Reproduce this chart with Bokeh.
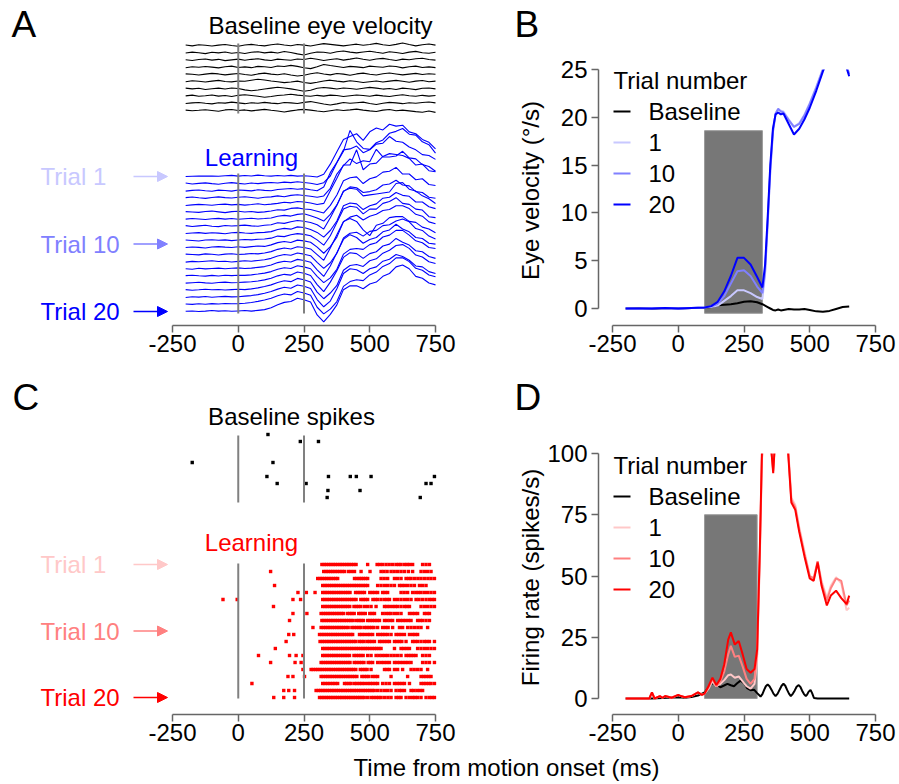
import math
from bokeh.plotting import figure
from bokeh.models import Range1d, FixedTicker, Label, Arrow, NormalHead, LinearAxis
from bokeh.embed import file_html
from bokeh.resources import INLINE

# ---------------- data ----------------
X_TICKS = [-250, 0, 250, 500, 750]
EYE_TICKS = [0, 5, 10, 15, 20, 25]
RATE_TICKS = [0, 25, 50, 75, 100]

# Panel A: single-trial eye velocity (deg/s), sampled every 25 ms
T_A = [-200, -175, -150, -125, -100, -75, -50, -25, 0, 25, 50, 75, 100, 125, 150, 175, 200,
       225, 250, 275, 300, 325, 350, 375, 400, 425, 450, 475, 500, 525, 550, 575, 600, 625,
       650, 675, 700, 725, 750]

BASE_EYE_TRIALS = [
    [0.3, -0.2, 0.4, 0.1, -0.3, 0.2, 0.5, 0.0, -0.4, 0.3, 0.6, 0.1, -0.2, 0.4, 0.8, 0.3, -0.1, 0.5, 0.2, -0.3, 0.4, 1.0, 0.6, 0.2, -0.2, 0.3, 0.7, 0.1, 0.5, 1.1, 0.4, 0.0, 0.6, 1.3, 0.5, -0.2, 0.4, 0.8, 0.2],
    [-0.2, 0.3, 0.0, -0.5, 0.2, -0.1, 0.4, -0.3, 0.1, -0.4, 0.2, 0.5, -0.1, 0.3, -0.2, 0.6, 0.1, -0.6, -1.2, -0.3, 0.4, 0.2, -0.3, 0.5, 0.9, 0.3, -0.1, 0.4, 0.8, 0.2, -0.3, 0.5, 0.1, -0.4, 0.3, 0.7, 0.0, -0.3, 0.2],
    [0.1, -0.3, 0.2, 0.5, -0.1, 0.3, -0.4, 0.0, 0.4, -0.2, 0.3, 0.6, 0.0, -0.3, 0.4, 0.1, -0.2, 0.5, 0.2, 0.9, 0.3, -0.3, 0.2, 0.6, -0.1, 0.4, 1.0, 0.3, -0.2, 0.5, 0.8, 0.2, -0.3, 0.4, 0.1, 0.6, 0.9, 0.2, -0.1],
    [-0.3, 0.2, -0.1, 0.3, 0.0, -0.4, 0.2, 0.5, -0.2, 0.1, -0.3, 0.4, 0.2, -0.2, 0.6, 0.3, 0.9, 0.4, -0.3, -0.8, 0.2, 1.4, 0.8, 0.3, -0.2, 0.4, 0.1, -0.3, 0.5, 0.2, -0.1, 0.6, 0.3, -0.4, 0.2, 0.5, -0.2, 0.1, -0.3],
    [0.2, 0.0, -0.4, 0.1, 0.5, 0.2, -0.3, 0.1, 0.4, -0.1, -0.5, 0.2, 0.6, 0.1, -0.2, 0.3, -0.4, -0.9, -0.5, 0.3, 0.8, 0.2, -0.3, 0.4, 0.1, -0.5, 0.2, 0.6, 0.0, -0.4, 0.3, 0.7, 0.2, -0.3, 0.1, 0.5, -0.1, 0.3, 0.0],
    [-0.1, 0.4, 0.1, -0.3, 0.2, 0.6, 0.0, -0.2, 0.3, 0.1, 0.7, 1.2, 0.8, 0.3, -0.1, -0.6, -0.3, 0.2, -0.5, -1.0, -0.4, 0.3, 0.7, 0.2, -0.2, 0.4, 0.0, -0.5, -0.1, 0.3, -0.3, 0.2, 0.6, 0.1, -0.4, 0.2, 0.5, -0.1, 0.2],
    [0.3, -0.1, 0.2, -0.4, 0.0, 0.3, -0.2, 0.4, 0.1, -0.6, -1.1, -0.7, -0.2, 0.3, 0.8, 0.4, -0.1, -0.7, -1.3, -0.8, 0.2, 0.6, 0.3, -0.2, 0.4, 0.1, -0.3, 0.2, 0.7, 0.3, -0.2, 0.1, -0.4, 0.3, 0.0, -0.5, 0.2, 0.4, -0.1],
    [0.0, 0.4, -0.2, 0.1, 0.5, -0.1, 0.2, -0.3, 0.3, 0.6, 0.2, -0.2, -0.7, -0.3, 0.2, 0.5, 0.9, 0.4, 0.1, -0.2, 0.3, -0.1, 0.4, 0.2, -0.3, 0.1, 0.5, 0.2, -0.2, 0.4, 0.0, -0.3, 0.2, 0.6, 0.1, -0.2, 0.3, -0.1, 0.2],
    [-0.2, 0.1, 0.3, -0.1, -0.4, 0.2, 0.0, 0.5, 0.1, -0.3, 0.2, -0.1, 0.4, 0.0, -0.3, 0.3, 0.1, -0.2, 0.4, 0.8, 0.2, -0.5, -1.0, -0.4, 0.3, -0.1, 0.2, 0.5, -0.2, -0.7, -0.1, 0.4, 0.1, -0.3, 0.2, -0.1, 0.3, 0.6, 0.1],
    [0.1, -0.2, 0.0, 0.3, -0.1, -0.5, 0.2, 0.4, -0.1, 0.2, -0.3, 0.1, 0.5, 0.0, -0.4, -0.9, -0.3, 0.2, 0.5, 0.1, -0.4, -0.8, -0.2, 0.3, -0.1, 0.2, 0.6, 0.1, -0.3, -0.6, 0.1, 0.4, -0.2, 0.1, -0.3, -0.7, -1.0, -0.4, -1.1],
]

LEARN_EYE_TRIALS = [
    [0.0, 0.1, 0.2, 0.2, 0.3, 0.1, 0.4, 0.6, 0.2, 0.5, 0.3, 0.7, 0.4, 0.2, 0.5, 0.3, 0.6, 0.2, 0.4, 0.1, -0.3, 1.2, 6.5, 13.0, 19.5, 21.0, 22.5, 19.0, 23.5, 25.5, 24.5, 27.5, 26.5, 27.0, 23.5, 22.5, 19.5, 18.0, 14.5],
    [0.3, -0.2, 0.1, 0.4, 0.0, -0.3, 0.2, 0.5, 0.1, -0.2, 0.3, 0.0, 0.4, 0.6, 0.3, 0.8, 0.5, 1.0, 0.6, 0.2, -0.5, 0.5, 4.0, 11.0, 17.0, 28.0, 22.0, 18.5, 18.0, 21.5, 23.0, 26.5, 27.5, 29.0, 26.0, 25.5, 22.0, 20.5, 16.0],
    [-0.2, 0.2, 0.4, 0.0, -0.3, 0.3, 0.1, -0.2, 0.4, 0.2, -0.1, 0.5, 0.2, 0.0, 0.6, 0.9, 1.2, 0.8, 1.1, 0.5, 0.0, 2.0, 9.5, 15.0, 21.5, 22.0, 23.5, 20.0, 21.5, 24.5, 25.0, 28.5, 26.0, 25.5, 23.0, 21.5, 19.0, 18.5, 16.5],
    [0.1, 0.4, 0.0, -0.3, 0.2, 0.5, 0.1, -0.1, 0.3, 0.6, 0.2, -0.2, 0.3, 0.5, 1.0, 0.6, 1.3, 1.6, 1.2, 0.8, 0.3, 1.0, 5.0, 12.5, 17.0, 20.5, 18.0, 19.5, 19.0, 25.5, 21.5, 21.5, 22.0, 24.5, 21.0, 20.5, 17.5, 16.5, 14.0],
    [-0.3, 0.0, 0.3, 0.1, -0.2, 0.2, 0.4, 0.0, 0.3, -0.1, 0.2, 0.6, 0.1, 0.4, 0.8, 1.4, 1.1, 1.8, 1.5, 1.0, 0.2, 0.8, 7.5, 14.0, 21.0, 21.0, 29.0, 18.5, 21.5, 22.0, 25.5, 27.0, 26.5, 26.0, 24.5, 21.0, 21.5, 18.0, 17.5],
    [0.2, 0.0, -0.2, 0.3, 0.5, 0.1, -0.3, 0.2, 0.4, 0.0, 0.3, -0.2, 0.1, 0.5, 1.2, 1.0, 1.9, 2.2, 1.6, 1.3, 0.4, -0.5, 3.5, 9.0, 16.5, 18.0, 18.5, 15.0, 17.5, 18.5, 21.0, 21.5, 23.5, 20.0, 20.0, 17.0, 17.5, 14.5, 14.0],
    [0.0, 0.3, 0.1, -0.2, 0.2, 0.4, 0.0, 0.3, -0.1, 0.2, 0.5, 0.1, 0.3, 0.6, 1.5, 2.0, 1.6, 2.5, 2.8, 1.8, 0.6, -1.0, 2.5, 7.5, 14.5, 17.0, 16.5, 14.0, 14.5, 15.5, 18.0, 18.5, 20.5, 18.0, 17.5, 14.5, 14.0, 11.5, 11.0],
    [0.3, -0.1, 0.2, 0.5, 0.0, -0.2, 0.4, 0.1, 0.3, 0.6, 0.2, 0.0, 0.5, 0.8, 1.8, 1.5, 2.4, 3.0, 2.6, 2.0, 0.8, -1.5, 4.5, 11.0, 18.5, 20.0, 19.5, 16.0, 16.5, 17.0, 17.5, 18.0, 22.5, 23.0, 19.5, 18.5, 16.0, 14.5, 12.0],
    [-0.1, 0.2, 0.4, 0.0, 0.3, 0.1, -0.2, 0.3, 0.5, 0.2, 0.0, 0.4, 0.5, 0.9, 2.0, 2.6, 2.2, 3.4, 3.1, 2.0, 0.5, -2.0, 1.5, 6.5, 14.5, 16.0, 15.5, 12.5, 14.5, 15.5, 18.5, 19.0, 21.5, 20.0, 19.5, 16.5, 16.5, 14.0, 13.0],
    [0.2, 0.0, -0.3, 0.2, 0.4, 0.1, 0.3, -0.1, 0.2, 0.5, 0.3, 0.6, 0.8, 1.2, 2.3, 2.0, 3.0, 3.6, 3.2, 2.5, 0.3, -2.5, 2.5, 9.5, 16.5, 18.0, 17.5, 14.0, 16.5, 16.5, 19.5, 20.5, 22.5, 19.5, 19.0, 16.5, 16.0, 12.5, 12.0],
    [0.0, 0.3, 0.1, -0.2, 0.3, 0.5, 0.2, 0.0, 0.4, 0.1, 0.5, 0.8, 0.6, 1.4, 2.6, 3.2, 2.7, 3.9, 3.5, 2.8, 0.2, -3.0, 0.5, 5.5, 13.5, 16.0, 17.0, 14.5, 16.5, 17.5, 19.5, 20.0, 22.0, 22.0, 20.5, 17.5, 16.5, 13.5, 12.5],
    [0.3, 0.1, -0.1, 0.4, 0.2, -0.2, 0.3, 0.5, 0.1, 0.3, 0.6, 0.4, 0.9, 1.6, 2.8, 3.5, 3.0, 4.2, 3.8, 3.0, 0.0, -3.0, 3.5, 10.5, 17.5, 19.0, 17.5, 13.0, 10.0, 15.5, 16.5, 19.5, 20.0, 20.0, 17.5, 17.0, 14.5, 13.5, 11.5],
    [-0.2, 0.2, 0.0, 0.3, 0.5, 0.1, 0.3, -0.1, 0.2, 0.5, 0.3, 0.7, 1.1, 1.8, 3.0, 3.8, 3.4, 4.6, 4.0, 3.2, -0.3, -3.5, -0.5, 4.5, 12.5, 15.0, 15.5, 13.5, 16.0, 16.5, 19.0, 19.5, 21.5, 22.5, 21.0, 17.5, 16.5, 13.5, 12.0],
    [0.1, -0.2, 0.3, 0.0, 0.2, 0.4, 0.1, 0.3, 0.5, 0.2, 0.4, 0.8, 1.2, 2.0, 3.3, 4.0, 3.6, 5.0, 4.4, 3.5, -0.5, -4.0, 1.5, 8.5, 15.5, 18.0, 16.5, 13.5, 15.5, 16.5, 19.5, 20.5, 23.5, 21.0, 19.5, 16.5, 16.0, 13.5, 13.0],
    [0.2, 0.4, 0.1, -0.1, 0.3, 0.0, 0.4, 0.2, 0.4, 0.3, 0.6, 1.0, 1.5, 2.3, 3.5, 4.3, 3.9, 5.4, 4.8, 3.8, -0.2, -3.5, -1.0, 3.5, 11.5, 14.0, 14.5, 14.0, 16.5, 17.5, 20.5, 21.5, 24.0, 24.0, 21.5, 18.5, 17.5, 15.0, 14.5],
    [0.0, 0.2, 0.4, 0.1, -0.1, 0.3, 0.5, 0.2, 0.3, 0.5, 0.7, 1.1, 1.7, 2.5, 3.8, 4.6, 4.2, 5.8, 5.2, 4.0, -0.8, -4.5, 0.5, 6.5, 13.5, 16.0, 15.5, 13.0, 15.5, 16.5, 19.5, 20.5, 23.5, 21.5, 20.0, 17.0, 16.5, 14.0, 13.0],
    [0.3, 0.0, 0.2, 0.5, 0.2, 0.4, 0.1, 0.3, 0.5, 0.3, 0.7, 1.2, 1.9, 2.8, 4.0, 5.0, 4.5, 6.2, 5.5, 4.3, -1.0, -4.5, -1.5, 2.5, 10.5, 13.0, 13.5, 12.5, 15.5, 16.5, 19.5, 21.0, 23.5, 24.0, 22.0, 18.5, 17.5, 15.0, 14.0],
    [-0.1, 0.3, 0.1, 0.4, 0.0, 0.3, 0.5, 0.2, 0.3, 0.6, 0.9, 1.4, 2.1, 3.0, 4.3, 5.3, 4.8, 6.5, 5.8, 4.6, -1.2, -5.0, -2.0, 4.5, 12.5, 15.0, 14.5, 12.5, 15.0, 16.0, 19.0, 20.0, 22.5, 21.5, 19.5, 16.5, 16.0, 13.5, 12.5],
    [0.2, 0.0, 0.3, 0.1, 0.4, 0.2, 0.5, 0.3, 0.4, 0.6, 1.0, 1.6, 2.3, 3.2, 4.5, 5.5, 5.0, 6.8, 6.0, 4.8, -1.5, -5.0, -2.5, 1.5, 9.5, 12.0, 13.0, 12.5, 15.5, 17.0, 20.0, 21.5, 24.5, 24.5, 22.5, 19.0, 18.0, 15.5, 14.5],
    [0.1, 0.3, 0.0, 0.2, 0.5, 0.2, 0.4, 0.1, 0.3, 0.5, 0.2, 0.6, 1.0, 2.0, 3.5, 4.8, 5.3, 7.0, 6.2, 5.0, -1.8, -5.5, -1.5, 3.5, 11.5, 13.5, 13.5, 12.0, 14.5, 15.5, 18.5, 20.0, 23.5, 24.5, 22.5, 18.5, 17.5, 15.0, 14.0],
]

# Panel B: mean eye velocity (deg/s)
T_B = [-200, -150, -100, -50, 0, 50, 100, 125, 150, 175, 200, 225, 250, 275, 300, 320, 330,
       340, 350, 360, 370, 380, 390, 400, 420, 440, 460, 480, 500, 525, 550, 575, 600, 625, 650]
EYE_BASE = [0, 0.05, -0.05, 0.05, 0, 0.05, 0.05, 0.15, 0.35, 0.4, 0.45, 0.55, 0.7, 0.75, 0.65, 0.45, 0.3, 0.15, 0.0, -0.15, -0.2, -0.1, -0.2, -0.15, -0.05, -0.1, -0.1, -0.05, -0.15, -0.3, -0.35, -0.25, -0.05, 0.15, 0.2]
EYE_T1 = [0, 0, 0, 0.05, 0, 0.05, 0.1, 0.15, 0.3, 0.8, 1.3, 1.9, 1.9, 1.6, 1.2, 1.0, 3.5, 8.8, 14.3, 18.4, 20.3, 20.8, 20.7, 20.6, 19.8, 19.0, 19.4, 20.3, 21.5, 23.2, 25.1, 26.7, 28.0, 26.7, 24.6]
EYE_T10 = [0, 0, 0, 0.05, 0, 0.05, 0.1, 0.2, 0.5, 1.3, 2.6, 3.9, 4.0, 3.4, 2.3, 1.6, 3.8, 9.0, 14.5, 18.5, 20.4, 20.9, 20.6, 20.5, 19.7, 19.0, 19.3, 20.2, 21.4, 23.1, 25.0, 26.6, 28.0, 26.6, 24.5]
EYE_T20 = [0, 0, 0, 0.05, 0, 0.05, 0.1, 0.25, 0.7, 1.8, 3.4, 5.3, 5.3, 4.6, 3.3, 2.2, 4.5, 9.5, 15.0, 18.8, 20.3, 20.5, 20.3, 20.4, 19.3, 18.2, 18.8, 19.8, 21.0, 22.8, 24.8, 26.5, 28.0, 26.5, 24.3]
EYE_WINDOW = (100, 320, -0.5, 18.6)   # analysis window: start, end, bottom, top

# Panel C: spike times (ms)
BASE_SPIKES = [[113], [236, 305], [], [], [-175, 132], [], [109, 343, 426, 449, 505, 746],
               [148, 258, 714, 733], [341, 463], [338, 692]]
LEARN_SPIKES = [
    [318, 327, 335, 344, 352, 361, 369, 378, 387, 395, 404, 413, 421, 430, 439, 448, 492, 528, 538, 549, 562, 574, 587, 600, 610, 619, 632, 642, 651, 663, 701, 714, 727],
    [123, 325, 334, 342, 351, 359, 368, 377, 386, 395, 404, 419, 430, 442, 467, 501, 543, 554, 566, 581, 593, 606, 619, 632, 647, 663, 695, 708, 720, 733],
    [302, 311, 319, 328, 336, 345, 353, 362, 370, 378, 442, 451, 460, 468, 476, 484, 492, 543, 555, 568, 594, 606, 619, 638, 648, 657, 670, 683, 695, 708, 721, 733, 746],
    [138, 321, 330, 338, 347, 355, 364, 372, 381, 389, 398, 406, 415, 423, 432, 441, 449, 458, 466, 475, 483, 492, 530, 543, 556, 568, 581, 594, 613, 622, 632, 644, 657, 670, 689, 701, 714],
    [227, 259, 292, 321, 330, 338, 347, 356, 364, 373, 382, 390, 399, 408, 416, 425, 446, 455, 463, 472, 480, 500, 510, 520, 530, 549, 558, 568, 619, 631, 644, 663, 675, 685, 695, 708, 720, 733, 746],
    [-58, -4, 208, 237, 321, 329, 338, 346, 355, 363, 372, 380, 389, 397, 406, 414, 423, 431, 440, 448, 466, 475, 483, 492, 512, 521, 530, 543, 556, 566, 575, 594, 606, 619, 632, 644, 657, 676, 687, 700, 714, 727, 737, 746],
    [134, 321, 330, 338, 347, 355, 364, 372, 381, 390, 398, 407, 415, 424, 440, 449, 457, 466, 480, 492, 505, 524, 556, 565, 575, 587, 597, 606, 619, 632, 641, 651, 695, 708, 720, 733, 746],
    [208, 261, 315, 324, 332, 341, 349, 358, 366, 375, 383, 392, 400, 415, 424, 432, 441, 458, 466, 474, 483, 500, 509, 518, 549, 561, 572, 581, 594, 606, 619, 651, 662, 672, 682, 708, 718, 727],
    [195, 318, 326, 335, 343, 352, 360, 369, 377, 386, 394, 403, 411, 420, 428, 437, 450, 459, 467, 476, 492, 501, 510, 519, 528, 537, 556, 566, 577, 587, 606, 616, 626, 636, 647, 657, 682, 692, 701, 714, 727],
    [284, 315, 324, 332, 341, 349, 358, 366, 375, 383, 392, 400, 409, 418, 432, 441, 450, 459, 467, 480, 489, 498, 507, 516, 530, 549, 560, 570, 587, 613, 625, 644, 657, 670, 683, 695, 720],
    [192, 211, 309, 318, 326, 335, 343, 352, 360, 369, 377, 386, 395, 403, 412, 420, 428, 435, 461, 470, 480, 492, 501, 511, 530, 540, 549, 558, 568, 581, 600, 610, 620, 632, 651, 663, 672, 682],
    [182, 311, 320, 328, 337, 345, 354, 362, 371, 379, 388, 396, 405, 413, 422, 430, 439, 447, 460, 469, 478, 490, 499, 508, 518, 537, 546, 556, 566, 575, 594, 603, 613, 622, 638, 663, 672, 682, 695, 708, 717, 727, 746],
    [141, 321, 329, 338, 346, 355, 363, 372, 380, 389, 397, 406, 414, 423, 431, 440, 449, 457, 466, 474, 483, 491, 500, 509, 518, 526, 535, 543, 594, 619, 629, 640, 651, 682, 695, 708, 720, 733, 746],
    [77, 195, 220, 246, 321, 329, 338, 346, 355, 363, 372, 380, 389, 397, 406, 414, 423, 440, 449, 458, 466, 475, 492, 505, 524, 535, 546, 557, 568, 581, 593, 606, 619, 638, 648, 657, 666, 676, 701, 714, 727],
    [123, 216, 239, 315, 323, 332, 340, 349, 357, 366, 374, 383, 391, 400, 408, 417, 425, 441, 450, 460, 469, 478, 494, 502, 511, 530, 542, 553, 564, 575, 594, 604, 614, 625, 636, 646, 657, 701, 714, 727, 746],
    [246, 277, 285, 294, 302, 311, 319, 328, 336, 345, 353, 362, 370, 379, 387, 396, 404, 413, 421, 430, 438, 447, 464, 473, 482, 490, 505, 556, 566, 575, 594, 606, 625, 657, 669, 682, 695, 720],
    [189, 208, 252, 315, 323, 332, 340, 349, 357, 366, 374, 383, 391, 400, 408, 417, 425, 434, 442, 451, 470, 479, 488, 497, 511, 521, 530, 581, 644, 695, 705, 714, 724, 733],
    [52, 321, 330, 340, 349, 359, 368, 378, 404, 412, 421, 429, 442, 451, 461, 470, 480, 492, 502, 511, 521, 530, 549, 562, 575, 594, 604, 613, 623, 632, 651, 695, 705, 714, 724, 733, 746],
    [173, 192, 214, 296, 305, 313, 322, 330, 339, 347, 356, 364, 373, 381, 390, 398, 407, 415, 424, 432, 441, 449, 458, 466, 475, 483, 492, 500, 509, 517, 530, 543, 556, 568, 581, 600, 612, 621, 632, 657, 667, 679, 690, 701],
    [135, 173, 214, 309, 318, 326, 335, 343, 352, 360, 369, 377, 386, 394, 403, 411, 420, 428, 437, 445, 454, 462, 471, 479, 492, 505, 515, 525, 534, 543, 556, 569, 581, 600, 610, 619, 638, 651, 663, 672, 682, 695, 714, 727, 737, 746],
]

# Panel D: firing rate (spikes/s)
T_D = [-200, -150, -110, -100, -90, -70, -60, -50, -25, 0, 10, 25, 50, 75, 90, 100, 115, 130,
       145, 160, 175, 190, 200, 215, 230, 245, 260, 275, 290, 300, 310, 318, 330, 345, 355,
       361, 368, 380, 400, 418, 430, 445, 460, 480, 500, 515, 530, 545, 565, 580, 600, 620, 640, 650]
RATE_T1 = [0, 0, 0, 2.5, 0, 1.0, 0.3, 1.0, 0.3, 1.5, 1.0, 0.5, 1.0, 2.5, 1.5, 2.0, 4.0, 7.0, 5.0, 6.0, 7.5, 9.5, 9.8, 8.5, 9.0, 7.0, 5.0, 4.0, 6.0, 16.0, 56.0, 97.0, 115.0, 110.0, 100.0, 94.0, 105.0, 120.0, 115.0, 102.0, 82.0, 79.0, 70.0, 60.0, 50.0, 49.0, 56.0, 48.0, 41.0, 46.0, 49.5, 47.0, 36.0, 37.0]
RATE_T10 = [0, 0, 0, 2.5, 0, 1.0, 0.3, 1.0, 0.3, 1.5, 1.0, 0.5, 1.0, 2.5, 1.5, 2.0, 4.5, 8.0, 5.0, 7.0, 11.0, 18.0, 21.5, 17.0, 17.5, 13.0, 8.0, 6.0, 8.0, 18.0, 58.0, 98.0, 115.0, 110.0, 100.0, 93.0, 105.0, 120.0, 115.0, 101.0, 81.0, 78.0, 69.0, 59.0, 50.0, 49.0, 56.0, 47.0, 40.0, 45.0, 49.0, 48.0, 38.0, 40.0]
RATE_T20 = [0, 0, 0, 2.5, 0, 1.0, 0.3, 1.0, 0.3, 1.5, 1.0, 0.5, 1.0, 2.5, 1.5, 2.0, 5.0, 8.5, 5.5, 8.0, 14.0, 24.0, 27.0, 22.0, 23.5, 18.0, 12.0, 10.5, 12.0, 20.0, 60.0, 100.0, 115.0, 110.0, 100.0, 92.0, 105.0, 120.0, 115.0, 100.0, 80.0, 77.0, 68.0, 58.0, 49.0, 48.0, 55.5, 46.0, 38.0, 42.0, 44.0, 41.0, 38.5, 42.0]
T_D_BASE = [-200, -100, 0, 25, 50, 75, 100, 112, 124, 136, 148, 160, 174, 187, 200, 212, 224, 237,
            250, 262, 275, 288, 300, 313, 320, 327, 333, 340, 347, 355, 362, 370, 378, 385, 393,
            400, 407, 414, 421, 428, 436, 443, 450, 458, 465, 471, 478, 485, 490, 496, 503, 509,
            516, 530, 650]
RATE_BASE = [0, 0, 0.5, 0.3, 0.6, 1.2, 2.5, 4.0, 5.8, 6.5, 5.5, 4.6, 5.3, 6.0, 5.4, 5.0, 6.2, 7.3,
             6.3, 4.2, 3.4, 3.6, 2.2, 0.8, 1.8, 3.6, 5.0, 5.7, 5.0, 3.5, 2.0, 1.0, 2.0, 3.5, 5.2,
             6.0, 5.2, 3.5, 2.0, 1.0, 2.0, 3.3, 4.8, 5.5, 4.6, 3.2, 1.8, 1.0, 1.6, 2.8, 3.5, 2.2,
             0.2, 0, 0]
RATE_WINDOW = (100, 300, 0, 75)

LEGEND_ITEMS = ["Baseline", "1", "10", "20"]
BLUES = ["#000000", "#c8c8ff", "#8080ff", "#0000ff"]
REDS = ["#000000", "#ffc8c8", "#ff8080", "#ff0000"]

# ---------------- layout / style ----------------
PAGE_W, PAGE_H = 899, 784
FONT = "Liberation Sans"
FS = "24px"
LETTER_FS = "37px"
AXIS_GREY = "#666666"
REF_GREY = "#808080"
BOX_GREY = "#777777"


class Geom:
    """Linear map between a panel's data units and page pixels (two reference pairs per axis)."""
    def __init__(self, xpair_a, xpair_b, ypair_a, ypair_b):
        (self.pxa, self.xa), (self.pxb, self.xb) = xpair_a, xpair_b
        (self.pya, self.ya), (self.pyb, self.yb) = ypair_a, ypair_b

    def X(self, px):
        return self.xa + (px - self.pxa) * (self.xb - self.xa) / (self.pxb - self.pxa)

    def Y(self, py):
        return self.ya + (py - self.pya) * (self.yb - self.ya) / (self.pyb - self.pya)


A_SCALE, A_T20_PX, A_T1_PX = 1.9, 311.0, 176.0
C_T20_PX, C_T1_PX, C_ROW = 697.0, 564.0, 7.0
gA = Geom((172, -250), (435, 750), (A_T20_PX, 0.0), (A_T20_PX - A_SCALE * 10, 10.0))
gB = Geom((612, -250), (875, 750), (308, 0.0), (69, 25.0))
gC = Geom((172, -250), (435, 750), (C_T20_PX, 0.0), (C_T20_PX - C_ROW, 1.0))
gD = Geom((612, -250), (875, 750), (698, 0.0), (453, 100.0))
PANELS = {"A": gA, "B": gB, "C": gC, "D": gD}

p = figure(width=PAGE_W, height=PAGE_H, x_range=Range1d(0, PAGE_W), y_range=Range1d(PAGE_H, 0),
           output_backend="svg", toolbar_location=None,
           x_axis_location=None, y_axis_location=None,
           min_border=0, min_border_left=0, min_border_right=0,
           min_border_top=0, min_border_bottom=0)
p.outline_line_color = None
p.grid.visible = False
p.background_fill_color = "white"
p.border_fill_color = "white"
p.extra_x_ranges = {k: Range1d(g.X(0), g.X(PAGE_W)) for k, g in PANELS.items()}
p.extra_y_ranges = {k: Range1d(g.Y(PAGE_H), g.Y(0)) for k, g in PANELS.items()}


def style_axis(ax, ticks):
    ax.ticker = FixedTicker(ticks=ticks)
    ax.major_label_overrides = {t: str(t) for t in ticks}
    ax.bounds = (ticks[0], ticks[-1])
    ax.axis_line_color = AXIS_GREY
    ax.axis_line_width = 1.5
    ax.major_tick_line_color = AXIS_GREY
    ax.major_tick_line_width = 1.5
    ax.major_tick_out = 7
    ax.major_tick_in = 0
    ax.minor_tick_line_color = None
    ax.major_label_text_font = FONT
    ax.major_label_text_font_size = FS
    ax.major_label_text_color = "#000000"


def add_x_axis(name, axis_py):
    g = PANELS[name]
    ax = LinearAxis(x_range_name=name, y_range_name=name, fixed_location=g.Y(axis_py))
    style_axis(ax, X_TICKS)
    ax.major_label_standoff = 2
    p.add_layout(ax, "below")


def add_y_axis(name, axis_px, ticks):
    g = PANELS[name]
    ax = LinearAxis(x_range_name=name, y_range_name=name, fixed_location=g.X(axis_px))
    style_axis(ax, ticks)
    ax.major_label_standoff = 4
    p.add_layout(ax, "left")


def text(px, py, s, color="#000000", size=FS, align="left", angle=0.0):
    """Text whose visual middle sits at page pixel (px, py)."""
    p.add_layout(Label(x=px, y=py, text=s, text_color=color, text_font=FONT,
                       text_font_size=size, text_align=align, text_baseline="middle",
                       angle=angle))


def arrow(py, color):
    p.add_layout(Arrow(x_start=133, y_start=py, x_end=167, y_end=py,
                       line_color=color, line_width=1.5,
                       end=NormalHead(size=10, line_color=color, fill_color=color, line_width=1)))


def legend(title_mid, colors):
    text(613, title_mid, "Trial number")
    for i, (lab, c) in enumerate(zip(LEGEND_ITEMS, colors)):
        mid = title_mid + 31 * (i + 1)
        text(648, mid, lab)
        p.line([613, 630], [mid, mid], line_color=c, line_width=2)


def mask_above(name, value, page_top):
    """White cover that clips a panel's curves at the top of its value axis."""
    g = PANELS[name]
    p.quad(left=[g.X(598)], right=[g.X(PAGE_W)], bottom=[value], top=[g.Y(page_top)],
           fill_color="white", line_color=None, x_range_name=name, y_range_name=name)


# ---------------- panel A ----------------
a_row = (A_T20_PX - A_T1_PX) / (len(LEARN_EYE_TRIALS) - 1)
base_off = [gA.Y(45 + j * 7.2) for j in range(len(BASE_EYE_TRIALS))]
learn_off = [gA.Y(A_T1_PX + k * a_row) for k in range(len(LEARN_EYE_TRIALS))]
p.multi_line([T_A] * len(BASE_EYE_TRIALS),
             [[o + v for v in tr] for o, tr in zip(base_off, BASE_EYE_TRIALS)],
             line_color="#000000", line_width=1.1, x_range_name="A", y_range_name="A")
p.multi_line([T_A] * len(LEARN_EYE_TRIALS),
             [[o + v for v in tr] for o, tr in zip(learn_off, LEARN_EYE_TRIALS)],
             line_color="#0000ff", line_width=1.1, x_range_name="A", y_range_name="A")
for t in (0, 250):
    for top, bot in ((43, 113), (173, 313)):
        p.line([t, t], [gA.Y(top), gA.Y(bot)], line_color=REF_GREY, line_width=2,
               x_range_name="A", y_range_name="A")
add_x_axis("A", 325)
text(11, 23.5, "A", size=LETTER_FS)
text(320, 25, "Baseline eye velocity", align="center")
text(251, 156.5, "Learning", color="#0000ff", align="center")
for lab, py, c in (("Trial 1", A_T1_PX, BLUES[1]), ("Trial 10", (A_T1_PX + A_T20_PX) / 2, BLUES[2]),
                   ("Trial 20", A_T20_PX, BLUES[3])):
    text(40, py, lab, color=c)
    arrow(py, c)

# ---------------- panel B ----------------
p.quad(left=[EYE_WINDOW[0]], right=[EYE_WINDOW[1]], bottom=[EYE_WINDOW[2]], top=[EYE_WINDOW[3]],
       fill_color=BOX_GREY, line_color="#9a9a9a", line_width=1, x_range_name="B", y_range_name="B")
for ys, c in zip([EYE_BASE, EYE_T1, EYE_T10, EYE_T20], BLUES):
    p.line(T_B, ys, line_color=c, line_width=2, x_range_name="B", y_range_name="B")
mask_above("B", EYE_TICKS[-1], 0)
add_x_axis("B", 325)
add_y_axis("B", 598, EYE_TICKS)
text(530, 190, "Eye velocity (°/s)", size="24px", align="center", angle=math.pi / 2)
text(514, 23.5, "B", size=LETTER_FS)
legend(80, BLUES)

# ---------------- panel C ----------------
bx, by = [], []
for j, spikes in enumerate(BASE_SPIKES):
    bx += spikes
    by += [gC.Y(434 + j * C_ROW)] * len(spikes)
lx, ly = [], []
for k, spikes in enumerate(LEARN_SPIKES):
    lx += spikes
    ly += [gC.Y(C_T1_PX + k * C_ROW)] * len(spikes)
p.scatter(bx, by, marker="square", size=3.4, fill_color="#000000", line_color=None,
          x_range_name="C", y_range_name="C")
p.scatter(lx, ly, marker="square", size=3.4, fill_color="#ff0000", line_color=None,
          x_range_name="C", y_range_name="C")
for t in (0, 250):
    for top, bot in ((435, 502), (563, 698)):
        p.line([t, t], [gC.Y(top), gC.Y(bot)], line_color=REF_GREY, line_width=2,
               x_range_name="C", y_range_name="C")
add_x_axis("C", 714)
text(12, 396.5, "C", size=LETTER_FS)
text(291, 416, "Baseline spikes", align="center")
text(251, 541.5, "Learning", color="#ff0000", align="center")
for lab, py, c in (("Trial 1", C_T1_PX, REDS[1]), ("Trial 10", (C_T1_PX + C_T20_PX) / 2, REDS[2]),
                   ("Trial 20", C_T20_PX, REDS[3])):
    text(40, py, lab, color=c)
    arrow(py, c)

# ---------------- panel D ----------------
p.quad(left=[RATE_WINDOW[0]], right=[RATE_WINDOW[1]], bottom=[RATE_WINDOW[2]], top=[RATE_WINDOW[3]],
       fill_color=BOX_GREY, line_color="#9a9a9a", line_width=1, x_range_name="D", y_range_name="D")
p.line(T_D_BASE, RATE_BASE, line_color="#000000", line_width=2, x_range_name="D", y_range_name="D")
for ys, c in zip([RATE_T1, RATE_T10, RATE_T20], REDS[1:]):
    p.line(T_D, ys, line_color=c, line_width=2, x_range_name="D", y_range_name="D")
mask_above("D", RATE_TICKS[-1], 375)
add_x_axis("D", 714)
add_y_axis("D", 598, RATE_TICKS)
text(530, 577, "Firing rate (spikes/s)", size="24px", align="center", angle=math.pi / 2)
text(514, 396.5, "D", size=LETTER_FS)
legend(465, REDS)

# ---------------- shared x label ----------------
text(506, 767, "Time from motion onset (ms)", size="24px", align="center")

open("out.html", "w").write(file_html(p, INLINE))
